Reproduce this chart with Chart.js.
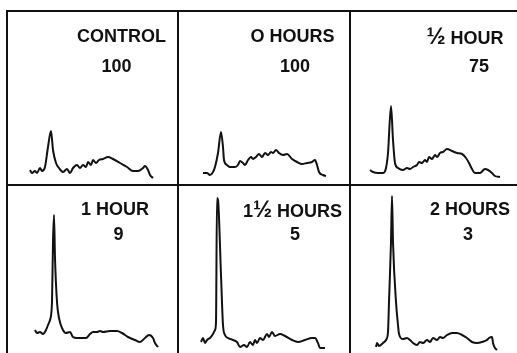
<!DOCTYPE html>
<html>
<head>
<meta charset="utf-8">
<script src="https://cdn.jsdelivr.net/npm/chart.js@4"></script>
<style>
  html, body { margin: 0; padding: 0; background: #fff; }
  #wrap { position: relative; width: 517px; height: 353px; overflow: hidden; background: #fff; }
  .panel { position: absolute; width: 172px; height: 174px; }
  .line { position: absolute; background: #111; }
  .lbl { position: absolute; font-family: "Liberation Sans", Arial, sans-serif; font-weight: bold;
         font-size: 18px; line-height: 18px; color: #111; white-space: nowrap; transform: translateX(-50%); }
  .frac { font-size: 23px; line-height: 18px; }
</style>
</head>
<body>
<div id="wrap"></div>
<script>
// Panel titles and sub-values (relative activity)
const panelTitles = ["CONTROL", "O HOURS", "\u00BD HOUR", "1 HOUR", "1\u00BD HOURS", "2 HOURS"];
const panelValues = ["100", "100", "75", "9", "5", "3"];

// Trace data: migration distance (x) and absorbance (y)
const controlX = [23,25,28,30,33,35,38,41,44,46,49,52,56,60,63,66,70,73,76,79,81,84,86,89,92,96,101,106,113,120,126,131,136,138,141,143,146];
const controlY = [14,11,13,11,16,13,17,37,53,34,21,16,12,15,11,16,19,16,19,17,22,19,24,21,24,25,27,25,21,17,13,13,16,18,14,9,6];

const zeroX = [25,29,32,35,37,40,43,45,46,49,52,57,60,62,65,67,70,73,75,78,81,84,87,90,93,95,98,101,105,109,114,119,124,129,134,137,139,141,145,148];
const zeroY = [11,11,9,12,17,31,52,37,24,19,17,17,19,23,21,19,24,27,25,27,30,27,31,29,32,31,34,31,29,30,25,22,20,21,22,24,19,12,9,8];

const halfX = [19,22,27,32,35,37,40,42,44,47,52,56,59,62,66,68,71,74,76,78,81,84,86,89,92,96,101,106,111,115,118,121,124,129,134,137,141,144,149];
const halfY = [14,12,11,11,16,31,78,44,21,16,14,16,15,17,19,22,21,24,22,27,25,29,27,31,32,35,33,31,30,26,21,15,11,11,15,14,11,8,7];

const oneX = [28,30,33,36,39,41,43,45,46,47,48,50,52,55,59,63,66,70,75,79,83,86,90,93,96,103,110,115,121,128,133,138,142,146,148,151];
const oneY = [28,25,26,24,28,33,38,56,116,143,100,56,40,30,25,26,21,20,20,20,24,26,26,27,26,27,27,25,21,18,16,20,23,20,15,11];

const oneHalfX = [23,25,27,29,32,35,37,38,39,40,43,45,47,50,55,59,62,66,69,72,75,77,79,82,85,89,91,94,97,102,107,114,120,127,134,137,140,142,147];
const oneHalfY = [16,20,15,18,20,24,28,36,160,158,83,33,23,20,18,16,11,13,11,16,13,18,15,20,18,24,21,26,22,24,22,18,16,18,20,20,15,10,10];

const twoX = [25,26,28,32,35,37,38,40,41,42,45,47,48,52,56,59,62,66,69,72,76,79,82,86,89,92,96,101,106,111,116,121,126,131,136,138,141,142,144,146];
const twoY = [11,15,12,15,18,26,56,116,162,116,56,33,24,19,20,18,15,13,16,15,18,16,20,18,21,20,23,25,25,23,20,16,15,16,18,20,21,15,10,8];

const seriesX = [controlX, zeroX, halfX, oneX, oneHalfX, twoX];
const seriesY = [controlY, zeroY, halfY, oneY, oneHalfY, twoY];

const wrap = document.getElementById('wrap');

// layout (positions)
const colLeft = [7, 178, 351];
const rowTop = [10, 184];
const titlePos = [[121.5, 27], [292.5, 27], [465, 27], [115, 200], [292.5, 200], [470, 200]];
const valuePos = [[116.5, 57], [295, 57], [479, 57], [118.5, 225], [295, 225], [468, 225]];

// frame lines
function addLine(l, t, w, h) {
  const d = document.createElement('div');
  d.className = 'line';
  d.style.left = l + 'px'; d.style.top = t + 'px';
  d.style.width = w + 'px'; d.style.height = h + 'px';
  wrap.appendChild(d);
}
addLine(6, 10, 511, 2);     // top
addLine(6, 10, 2, 343);     // left
addLine(177, 10, 2, 343);   // divider 1
addLine(349, 10, 2, 343);   // divider 2
addLine(6, 184, 511, 2);    // middle

function fillLabel(el, text) {
  // render the "½" glyph a little larger, as in the hand lettering
  for (const ch of text) {
    if (ch === '\u00BD') {
      const s = document.createElement('span');
      s.className = 'frac';
      s.textContent = ch;
      el.appendChild(s);
    } else {
      el.appendChild(document.createTextNode(ch));
    }
  }
}

for (let i = 0; i < 6; i++) {
  const c = i % 3, r = Math.floor(i / 3);
  const div = document.createElement('div');
  div.className = 'panel';
  div.style.left = colLeft[c] + 'px';
  div.style.top = rowTop[r] + 'px';
  const cv = document.createElement('canvas');
  cv.width = 172; cv.height = 174;
  div.appendChild(cv);
  wrap.appendChild(div);

  const pts = seriesX[i].map((x, k) => ({ x: x, y: seriesY[i][k] }));
  new Chart(cv, {
    type: 'line',
    data: { datasets: [{
      label: panelTitles[i],
      data: pts,
      borderColor: '#111',
      borderWidth: 2,
      pointRadius: 0,
      fill: false,
      cubicInterpolationMode: 'monotone'
    }]},
    options: {
      responsive: false,
      animation: false,
      events: [],
      layout: { padding: 0 },
      scales: {
        x: { type: 'linear', min: 0, max: 172, display: false },
        y: { type: 'linear', min: 0, max: 174, display: false }
      },
      plugins: { legend: { display: false }, tooltip: { enabled: false } }
    }
  });

  const t = document.createElement('div');
  t.className = 'lbl';
  fillLabel(t, panelTitles[i]);
  t.style.left = titlePos[i][0] + 'px';
  t.style.top = titlePos[i][1] + 'px';
  wrap.appendChild(t);

  const v = document.createElement('div');
  v.className = 'lbl';
  v.textContent = panelValues[i];
  v.style.left = valuePos[i][0] + 'px';
  v.style.top = valuePos[i][1] + 'px';
  wrap.appendChild(v);
}
</script>
</body>
</html>
